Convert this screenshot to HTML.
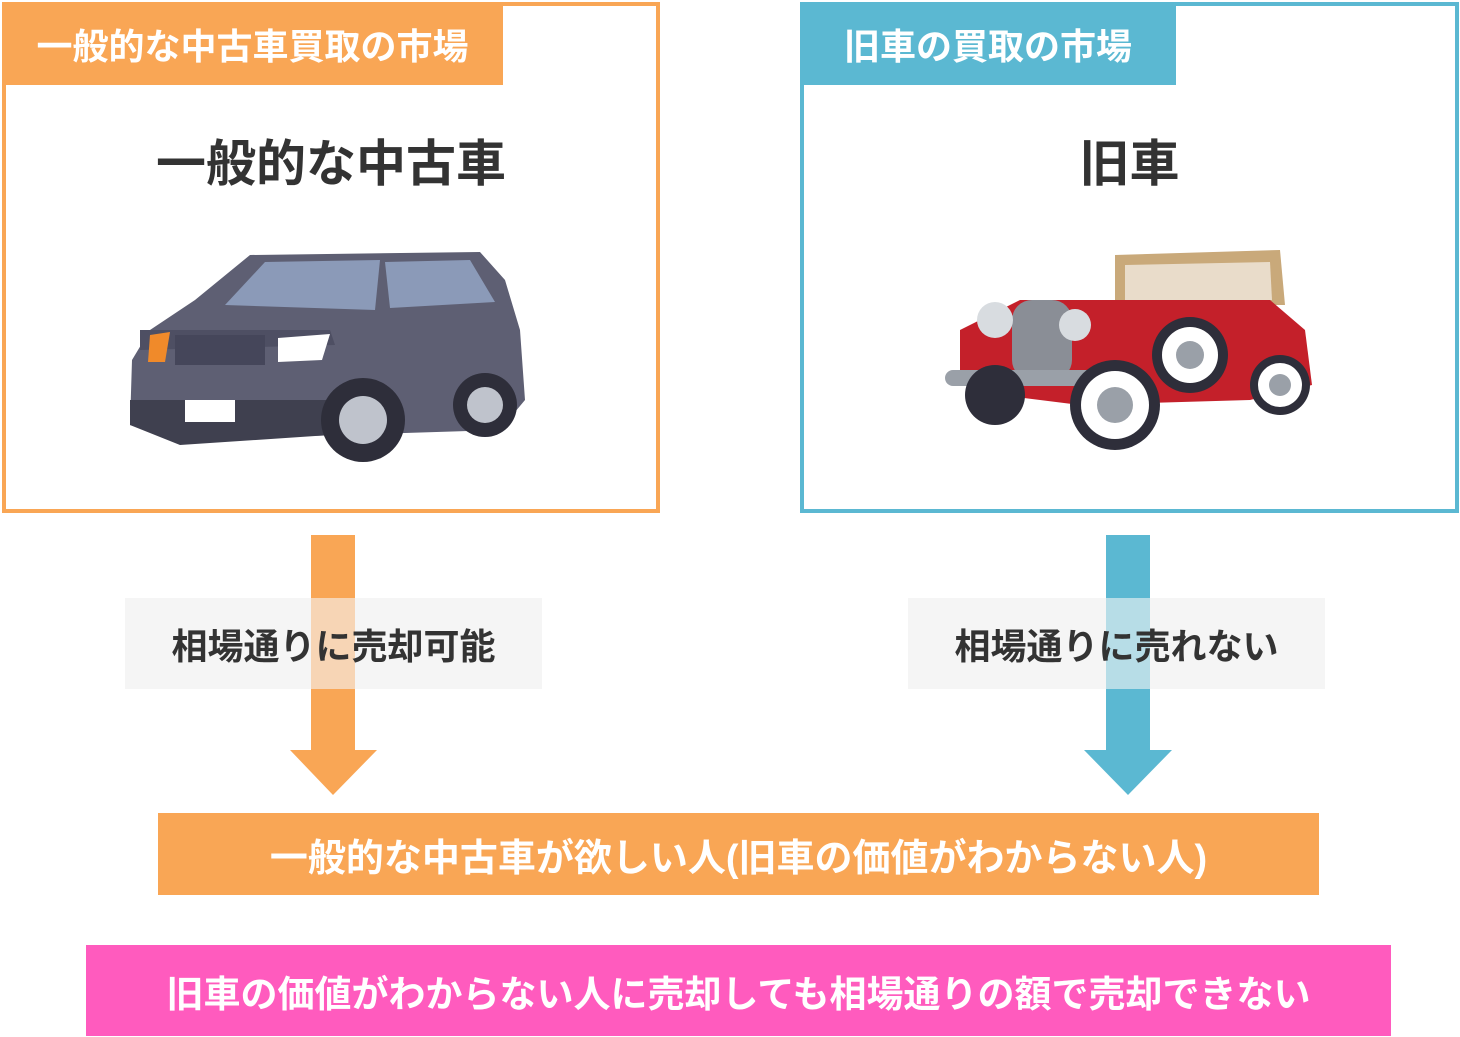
<!DOCTYPE html>
<html><head><meta charset="utf-8"><style>
body{margin:0;width:1460px;height:1037px;background:#fff;position:relative;overflow:hidden;font-family:"Liberation Sans","Noto Sans CJK JP",sans-serif;font-weight:bold}
.a{position:absolute;box-sizing:border-box}
.t{display:flex;align-items:center;justify-content:center;white-space:nowrap}
</style></head><body>
<div class="a" style="left:2px;top:2px;width:658px;height:511px;border:4px solid #F9A655"></div>
<div class="a t" style="left:2px;top:2px;width:501px;height:83px;background:#F9A655;color:#fff;font-size:36px">一般的な中古車買取の市場</div>
<div class="a t" style="left:2px;top:130px;width:658px;height:60px;color:#333;font-size:50px">一般的な中古車</div>

<div class="a" style="left:800px;top:2px;width:659px;height:511px;border:4px solid #5BB8D2"></div>
<div class="a t" style="left:800px;top:2px;width:376px;height:83px;background:#5BB8D2;color:#fff;font-size:36px">旧車の買取の市場</div>
<div class="a t" style="left:800px;top:130px;width:659px;height:60px;color:#333;font-size:50px">旧車</div>

<svg class="a" style="left:0;top:0" width="1460" height="1037">
<path d="M195 300 L250 255 L480 252 L505 280 L520 330 L525 400 L500 430 L180 440 L130 425 L132 360 L150 330 Z" fill="#5E5F73"/>
<path d="M225 305 L265 262 L380 260 L375 310 Z" fill="#8B9AB8"/>
<path d="M385 262 L470 260 L495 302 L390 308 Z" fill="#8B9AB8"/>
<path d="M140 330 L330 330 L335 345 L140 350 Z" fill="#4E4F63"/>
<rect x="175" y="335" width="90" height="30" fill="#45465A"/>
<path d="M150 335 L170 332 L165 362 L148 362 Z" fill="#F08A2A"/>
<path d="M278 338 L330 334 L322 360 L278 362 Z" fill="#fff"/>
<path d="M130 400 L330 400 L330 435 L180 445 L130 425 Z" fill="#3F404F"/>
<rect x="185" y="400" width="50" height="22" fill="#fff"/>
<circle cx="363" cy="420" r="42" fill="#2E2E3A"/><circle cx="363" cy="420" r="24" fill="#BFC3CC"/>
<circle cx="485" cy="405" r="32" fill="#2E2E3A"/><circle cx="485" cy="405" r="18" fill="#BFC3CC"/>
<path d="M1115 255 L1280 250 L1285 305 L1115 305 Z" fill="#C9A97A"/>
<path d="M1125 265 L1270 262 L1272 300 L1125 302 Z" fill="#fff" opacity="0.6"/>
<path d="M960 330 L1020 300 L1270 300 L1305 330 L1312 385 L1250 400 L1080 405 L1000 395 L960 380 Z" fill="#C4202A"/>
<rect x="1012" y="300" width="60" height="80" rx="20" fill="#8A8E96"/>
<circle cx="995" cy="320" r="18" fill="#D8DCE0"/><circle cx="1075" cy="325" r="16" fill="#D8DCE0"/>
<rect x="945" y="370" width="150" height="16" rx="8" fill="#9AA0A8"/>
<circle cx="1115" cy="405" r="45" fill="#2E2E3A"/><circle cx="1115" cy="405" r="34" fill="#fff"/><circle cx="1115" cy="405" r="18" fill="#9AA0A8"/>
<circle cx="1190" cy="355" r="38" fill="#2E2E3A"/><circle cx="1190" cy="355" r="28" fill="#fff"/><circle cx="1190" cy="355" r="14" fill="#9AA0A8"/>
<circle cx="1280" cy="385" r="30" fill="#2E2E3A"/><circle cx="1280" cy="385" r="22" fill="#fff"/><circle cx="1280" cy="385" r="11" fill="#9AA0A8"/>
<circle cx="995" cy="395" r="30" fill="#2E2E3A"/>
<rect x="311" y="535" width="44" height="216" fill="#F9A655"/>
<polygon points="290,750 377,750 333,795" fill="#F9A655"/>
<rect x="1106" y="535" width="44" height="216" fill="#5BB8D2"/>
<polygon points="1084,750 1172,750 1128,795" fill="#5BB8D2"/>
<rect x="125" y="598" width="417" height="91" fill="#F5F5F5" fill-opacity="0.6"/>
<rect x="125" y="598" width="186" height="91" fill="#F5F5F5"/>
<rect x="355" y="598" width="187" height="91" fill="#F5F5F5"/>
<rect x="908" y="598" width="417" height="91" fill="#F5F5F5" fill-opacity="0.6"/>
<rect x="908" y="598" width="198" height="91" fill="#F5F5F5"/>
<rect x="1150" y="598" width="175" height="91" fill="#F5F5F5"/>
</svg>
<div class="a t" style="left:125px;top:598px;width:417px;height:91px;color:#333;font-size:36px">相場通りに売却可能</div>
<div class="a t" style="left:908px;top:598px;width:417px;height:91px;color:#333;font-size:36px">相場通りに売れない</div>
<div class="a t" style="left:158px;top:813px;width:1161px;height:82px;background:#F9A655;color:#fff;font-size:38px">一般的な中古車が欲しい人(旧車の価値がわからない人)</div>
<div class="a t" style="left:86px;top:945px;width:1305px;height:91px;background:#FF5BBE;color:#fff;font-size:37px">旧車の価値がわからない人に売却しても相場通りの額で売却できない</div>
</body></html>
